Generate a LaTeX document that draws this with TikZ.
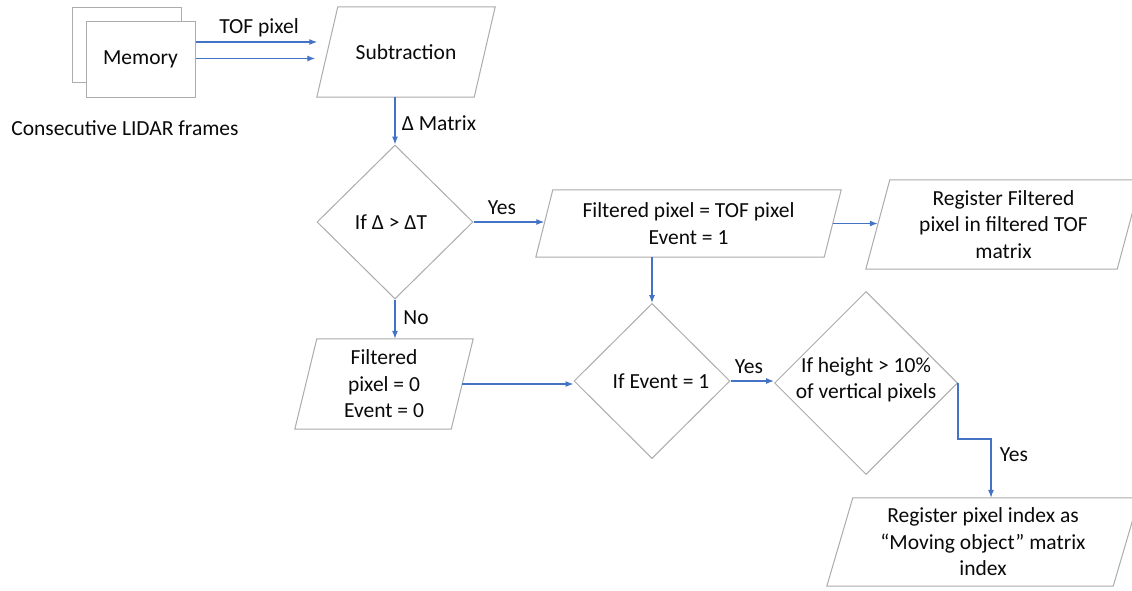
\documentclass[tikz,border=0pt]{standalone}
\usepackage{fontspec}
\setmainfont{Carlito}
\usetikzlibrary{shapes.geometric,arrows.meta,calc}

\definecolor{edgegray}{RGB}{172,172,172}
\definecolor{flowblue}{RGB}{68,114,196}
\definecolor{ink}{RGB}{10,10,10}

\tikzset{
  outline/.style={draw=edgegray, line width=1pt},
  txt/.style={text=ink, font=\fontsize{21.5}{26.5}\selectfont, align=center, inner sep=0pt},
  frame/.style 2 args={txt, rectangle, minimum width=#1, minimum height=#2},
  decision/.style 2 args={diamond, outline, inner sep=0pt, minimum width=#1, minimum height=#2},
  flow/.style={draw=flowblue, line width=1.2pt, -{Latex[length=8pt,width=6pt]}},
}

% slanted data box drawn around a named rectangular node
% #1 name, #2 half horizontal slant
\newcommand\slantoutline[2]{%
  \draw[outline] ([xshift=#2]#1.north west) -- ([xshift=#2]#1.north east)
    -- ([xshift=-#2]#1.south east) -- ([xshift=-#2]#1.south west) -- cycle;}

\begin{document}
\begin{tikzpicture}[x=1pt, y=-1pt]
  \useasboundingbox[fill=white] (0,0) rectangle (1132,590);

  % stacked memory frames
  \node[frame={109}{75}, outline, fill=white] (memb) at (126.5,44.5) {};
  \node[frame={109}{76}, outline, fill=white] (memf) at (140.5,59) {Memory};
  \node[txt] (caption) at (125,128) {Consecutive LIDAR frames};

  % process boxes
  \node[frame={157}{90}] (sub) at (406,52) {Subtraction};
  \slantoutline{sub}{10.5}
  \node[frame={288}{67}] (fpix) at (688.5,223.5) {Filtered pixel = TOF pixel\\Event = 1};
  \slantoutline{fpix}{8.5}
  \node[frame={251}{89}] (regf) at (1003.5,224.5) {Register Filtered\\pixel in filtered TOF\\matrix};
  \slantoutline{regf}{12}
  \node[frame={156}{90}] (zero) at (384,384) {Filtered\\pixel = 0\\Event = 0};
  \slantoutline{zero}{11}
  \node[frame={286}{88}] (regp) at (983,542) {Register pixel index as\\“Moving object” matrix\\index};
  \slantoutline{regp}{13}

  % decisions
  \node[decision={156}{154}, label={[txt, xshift=-4]center:If Δ > ΔT}] (d1) at (395,222) {};
  \node[decision={156}{155}, label={[txt, xshift=9]center:If Event = 1}] (d2) at (652,381) {};
  \node[decision={183}{183}, label={[txt, yshift=3]center:If height > 10\%\\of vertical pixels}] (d3) at (866,383) {};

  % connectors
  \draw[flow] (memf.east |- 0,42) -- ([xshift=-10]sub.west |- 0,42);
  \draw[flow] (memf.east |- 0,58.5) -- ([xshift=-12]sub.west |- 0,58.5);
  \draw[flow] (d1.north |- sub.south) -- (d1.north);
  \draw[flow] (d1.east) -- (d1.east -| fpix.west);
  \draw[flow] (fpix.east) -- (fpix.east -| regf.west);
  \draw[flow] (d2.north |- fpix.south) -- (d2.north);
  \draw[flow] (d1.south) -- (d1.south |- zero.north);
  \draw[flow] (zero.east) -- (zero.east -| d2.west);
  \draw[flow] (d2.east) -- (d2.east -| d3.west);
  \draw[flow] (d3.east) -- ++(0,56) -| ([xshift=8]regp.north);

  % connector labels
  \node[txt] (ltof) at (259,28) {TOF pixel};
  \node[txt] (ldelta) at (439,123) {Δ Matrix};
  \node[txt] (lyes1) at (502,208) {Yes};
  \node[txt] (lno) at (416,318) {No};
  \node[txt] (lyes2) at (749,367) {Yes};
  \node[txt] (lyes3) at (1014,455) {Yes};
\end{tikzpicture}
\end{document}
